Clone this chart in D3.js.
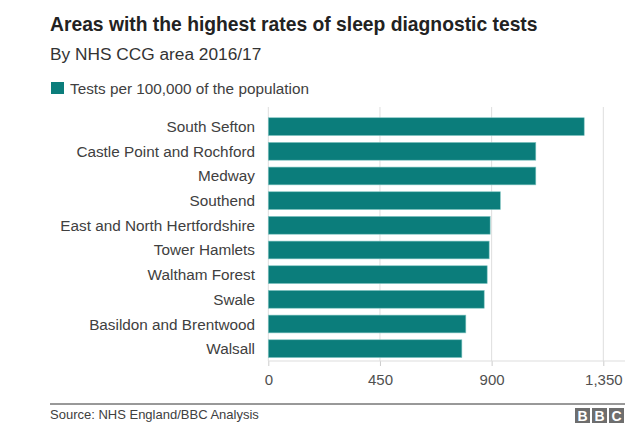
<!DOCTYPE html>
<html>
<head>
<meta charset="utf-8">
<script src="https://cdn.jsdelivr.net/npm/d3@7"></script>
<style>
  body { margin: 0; background: #fff; }
  svg { font-family: "Liberation Sans", Arial, Helvetica, sans-serif; }
</style>
</head>
<body>
<div id="chart"></div>
<script>
// data
const areas = [
  "South Sefton", "Castle Point and Rochford", "Medway", "Southend",
  "East and North Hertfordshire", "Tower Hamlets", "Waltham Forest",
  "Swale", "Basildon and Brentwood", "Walsall"
];
const testsPer100k = [1273, 1078, 1078, 935, 894, 890, 882, 870, 796, 780];
const xTicks = [0, 450, 900, 1350];

const w = 640, h = 431;
const barColor = "#0b7d7b";

const svg = d3.select("#chart").append("svg")
  .attr("width", w)
  .attr("height", h);

// heading
svg.append("text")
  .text("Areas with the highest rates of sleep diagnostic tests")
  .attr("x", 50).attr("y", 31)
  .attr("font-size", 19.3).attr("font-weight", "bold").attr("fill", "#222");
svg.append("text")
  .text("By NHS CCG area 2016/17")
  .attr("x", 50).attr("y", 60)
  .attr("font-size", 17.3).attr("fill", "#333");

// legend
svg.append("rect")
  .attr("x", 51).attr("y", 82).attr("width", 13).attr("height", 12)
  .attr("fill", barColor);
svg.append("text")
  .text("Tests per 100,000 of the population")
  .attr("x", 70).attr("y", 93.5)
  .attr("font-size", 15.3).attr("fill", "#404040");

// scales
const x = d3.scaleLinear().domain([0, 1350]).range([268.3, 603.3]);
const y = d3.scaleBand().domain(areas).range([114.3, 361])
  .paddingInner(0.28).paddingOuter(0.14);

// grid
svg.append("g").selectAll("line")
  .data(xTicks)
  .enter().append("line")
  .attr("x1", d => x(d)).attr("x2", d => x(d))
  .attr("y1", 107).attr("y2", 361)
  .attr("stroke", "#dedede");

// bars
svg.append("g").selectAll("rect")
  .data(areas)
  .enter().append("rect")
  .attr("x", x(0))
  .attr("y", d => y(d))
  .attr("width", (d, i) => x(testsPer100k[i]) - x(0))
  .attr("height", y.bandwidth())
  .attr("fill", barColor)
  .attr("stroke", "#7fc4c1").attr("stroke-width", 0.6);

// category labels
svg.append("g").selectAll("text")
  .data(areas)
  .enter().append("text")
  .text(d => d)
  .attr("x", 255)
  .attr("y", d => y(d) + y.bandwidth() / 2)
  .attr("dy", "0.36em")
  .attr("text-anchor", "end")
  .attr("font-size", 15.3).attr("fill", "#404040");

// x axis
const xAxis = svg.append("g")
  .attr("transform", "translate(0,361)")
  .call(d3.axisBottom(x).tickValues(xTicks).tickFormat(d3.format(",")).tickSize(5).tickPadding(8));
xAxis.select(".domain").remove();
xAxis.selectAll(".tick line").attr("stroke", "#ccc");
xAxis.selectAll(".tick text").attr("font-size", 15).attr("fill", "#505050")
  .attr("font-family", "'Liberation Sans', Arial, sans-serif");
svg.append("line")
  .attr("x1", x(0)).attr("x2", 625).attr("y1", 361).attr("y2", 361)
  .attr("stroke", "#ddd");

// footer
svg.append("line")
  .attr("x1", 50).attr("x2", 625).attr("y1", 404).attr("y2", 404)
  .attr("stroke", "#333").attr("stroke-width", 1);
svg.append("text")
  .text("Source: NHS England/BBC Analysis")
  .attr("x", 50).attr("y", 419)
  .attr("font-size", 13).attr("fill", "#404040");

// BBC logo
const logo = svg.append("g").attr("transform", "translate(575,408)");
["B", "B", "C"].forEach((c, i) => {
  logo.append("rect")
    .attr("x", i * 17).attr("y", 0).attr("width", 15).attr("height", 15)
    .attr("fill", "#6e6e6e");
  logo.append("text")
    .text(c)
    .attr("x", i * 17 + 7.5).attr("y", 12.5)
    .attr("text-anchor", "middle")
    .attr("font-size", 14).attr("font-weight", "bold").attr("fill", "#fff");
});
</script>
</body>
</html>
